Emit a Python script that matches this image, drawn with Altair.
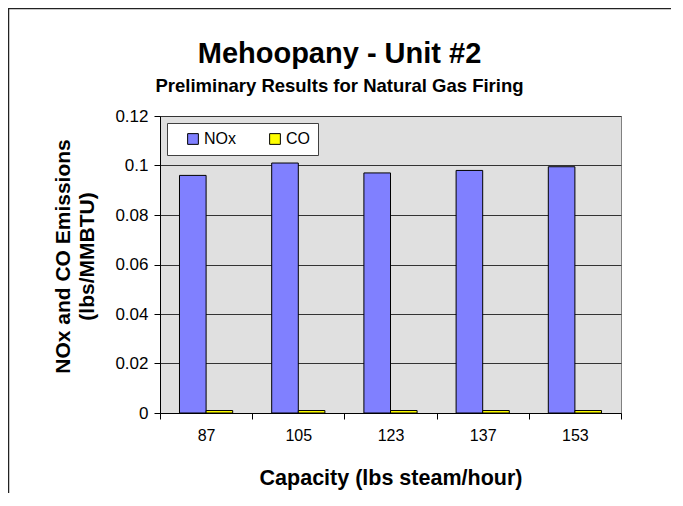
import altair as alt
import pandas as pd

capacities = ["87", "105", "123", "137", "153"]
nox = [0.096, 0.101, 0.097, 0.098, 0.0995]
co = [0.001, 0.001, 0.001, 0.001, 0.001]
series = ["NOx", "CO"]
colors = ["#8080FF", "#FFFF00"]
y_ticks = [0, 0.02, 0.04, 0.06, 0.08, 0.1, 0.12]

rows = []
for i, c in enumerate(capacities):
    rows.append({"Capacity": c, "Series": "NOx", "Value": nox[i]})
    rows.append({"Capacity": c, "Series": "CO", "Value": co[i]})
df = pd.DataFrame(rows)

FONT = "Liberation Sans"

bars = alt.Chart(df).mark_bar(stroke="black", strokeWidth=1).encode(
    x=alt.X(
        "Capacity:N",
        sort=capacities,
        scale=alt.Scale(paddingInner=0, paddingOuter=0),
        axis=alt.Axis(
            title="Capacity (lbs steam/hour)",
            labelAngle=0,
            tickBand="extent",
            grid=False,
            domainColor="black",
            tickColor="black",
            tickSize=6,
            labelPadding=8,
            labelFont=FONT,
            labelFontSize=16,
            labelColor="black",
            titleFont=FONT,
            titleFontSize=21.5,
            titleFontWeight="bold",
            titleColor="black",
            titleBaseline="top",
            titleY=54,
        ),
    ),
    xOffset=alt.XOffset(
        "Series:N",
        sort=series,
        scale=alt.Scale(paddingInner=0, paddingOuter=0.733),
    ),
    y=alt.Y(
        "Value:Q",
        scale=alt.Scale(domain=[0, 0.12]),
        axis=alt.Axis(
            values=y_ticks,
            format=".2~f",
            title=["NOx and CO Emissions", "(lbs/MMBTU)"],
            grid=True,
            gridColor="#333333",
            gridWidth=1,
            domainColor="black",
            tickColor="black",
            tickSize=6,
            labelPadding=6,
            labelFont=FONT,
            labelFontSize=17,
            labelColor="black",
            titleFont=FONT,
            titleFontSize=21,
            titleFontWeight="bold",
            titleColor="black",
            titleAngle=270,
            titleAlign="center",
            titleBaseline="top",
            titleX=-108,
            titleY=140,
            titleLineHeight=24,
        ),
    ),
    color=alt.Color(
        "Series:N",
        sort=series,
        scale=alt.Scale(domain=series, range=colors),
        legend=alt.Legend(
            title=None,
            orient="none",
            legendX=7,
            legendY=7,
            direction="horizontal",
            fillColor="white",
            strokeColor="#404040",
            padding=8,
            symbolType="square",
            symbolSize=115,
            symbolOffset=10,
            symbolStrokeColor="black",
            symbolStrokeWidth=1,
            labelFont=FONT,
            labelFontSize=16,
            labelColor="black",
            labelOffset=3,
            columnPadding=21,
        ),
    ),
)

frame_df = pd.DataFrame({"k": [0]})
frame_top = alt.Chart(frame_df).mark_rule(color="#222222", strokeWidth=1.5).encode(
    x=alt.value(-152), x2=alt.value(515), y=alt.value(-107.5)
)
frame_left = alt.Chart(frame_df).mark_rule(color="#222222", strokeWidth=1.5).encode(
    x=alt.value(-151.5), y=alt.value(-108), y2=alt.value(380)
)

chart = alt.layer(bars, frame_top, frame_left).properties(
    width=461,
    height=297,
    autosize=alt.AutoSizeParams(type="none"),
    padding={"left": 152, "top": 108, "right": 50, "bottom": 80},
    title=alt.TitleParams(
        text="Mehoopany - Unit #2",
        subtitle="Preliminary Results for Natural Gas Firing",
        font=FONT,
        fontSize=29,
        fontWeight="bold",
        color="black",
        subtitleFont=FONT,
        subtitleFontSize=18.5,
        subtitleFontWeight="bold",
        subtitleColor="black",
        subtitlePadding=8,
        anchor="middle",
        dx=-51,
        offset=-88,
    ),
).configure_view(
    fill="#E0E0E0", stroke="#808080"
)

chart.save("out.html", embed_options={"renderer": "svg", "actions": False})
